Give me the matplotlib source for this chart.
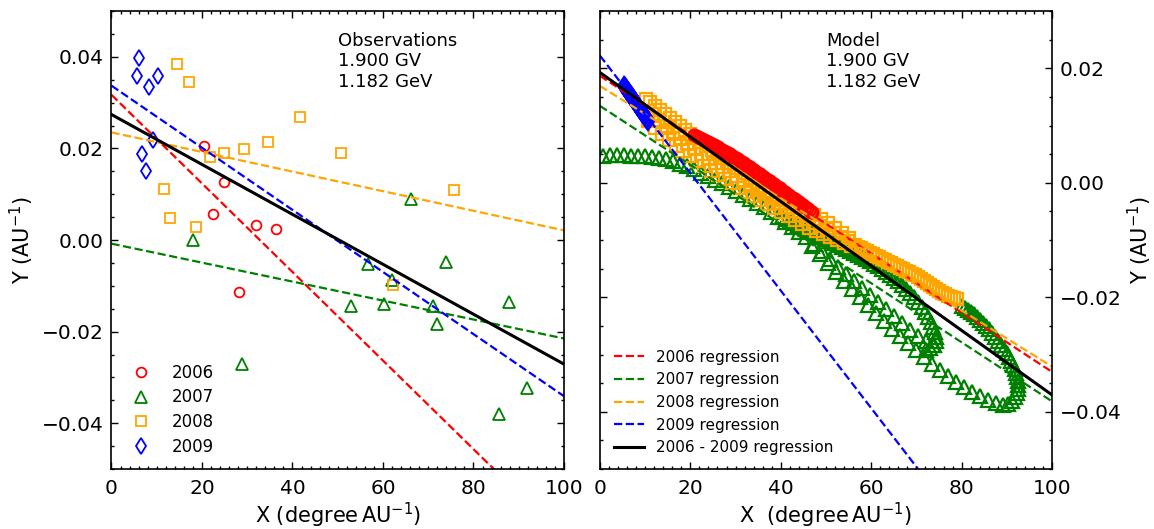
import numpy as np
import matplotlib
matplotlib.use('Agg')
import matplotlib.pyplot as plt
from matplotlib.ticker import MultipleLocator

years = ['2006', '2007', '2008', '2009']
colors = ['red', 'green', 'orange', 'blue']
markers = ['o', '^', 's', 'd']

# observations (left panel)
obs_x_2006 = [20.4, 24.9, 22.4, 31.9, 36.3, 28.1]
obs_y_2006 = [0.0206, 0.0127, 0.0056, 0.0032, 0.0024, -0.0114]
obs_x_2007 = [66.3, 18.0, 73.9, 56.7, 62.1, 52.9, 60.2, 71.0, 71.9, 87.8, 28.8, 91.8, 85.7]
obs_y_2007 = [0.0090, 0.0001, -0.0048, -0.0053, -0.0087, -0.0144, -0.0139, -0.0144, -0.0184,
              -0.0136, -0.0271, -0.0324, -0.0379]
obs_x_2008 = [14.5, 17.1, 41.7, 34.7, 29.3, 24.9, 21.7, 50.7, 11.6, 75.8, 13.0, 18.7, 62.3]
obs_y_2008 = [0.0385, 0.0346, 0.0268, 0.0213, 0.0199, 0.0189, 0.0181, 0.0190, 0.0112, 0.0109,
              0.0048, 0.0029, -0.0099]
obs_x_2009 = [6.1, 5.6, 10.3, 8.2, 9.2, 6.8, 7.6]
obs_y_2009 = [0.0397, 0.0359, 0.0357, 0.0334, 0.0219, 0.0188, 0.0150]

# regressions: intercept, slope (2006..2009, then all years)
obs_intercepts = [0.0317, -0.0008, 0.0235, 0.0337]
obs_slopes = [-0.000967, -0.000207, -0.000214, -0.000678]
obs_all = (0.0274, -0.000545)

mod_intercepts = [0.01867, 0.01342, 0.0169, 0.0222]
mod_slopes = [-0.000517, -0.000516, -0.00049, -0.001026]
mod_all = (0.01925, -0.000563)

# model (right panel)
mod_x_2006 = [20.8, 21.24, 21.68, 22.12, 22.56, 23.0, 23.44, 23.88, 24.32, 24.76, 25.2, 25.64,
              26.08, 26.52, 26.96, 27.4, 27.84, 28.28, 28.72, 29.16, 29.6, 30.04, 30.48, 30.92,
              31.36, 31.8, 32.24, 32.68, 33.12, 33.56, 34.0, 34.44, 34.88, 35.32, 35.76, 36.2,
              36.64, 37.08, 37.52, 37.96, 38.4, 38.84, 39.28, 39.72, 40.16, 40.6, 41.04, 41.48,
              41.92, 42.36, 42.8, 43.24, 43.68, 44.12, 44.56, 45.0, 45.44, 45.88, 46.32, 46.76,
              46.9]
mod_y_2006 = [0.00835, 0.00818, 0.008, 0.00783, 0.00765, 0.00748, 0.0073, 0.00713, 0.00695,
              0.00678, 0.00658, 0.00638, 0.00618, 0.00598, 0.00577, 0.00557, 0.00537, 0.00517,
              0.00497, 0.00476, 0.00453, 0.0043, 0.00407, 0.00384, 0.00361, 0.00339, 0.00316,
              0.00293, 0.00269, 0.00245, 0.0022, 0.00196, 0.00172, 0.00147, 0.00123, 0.00099,
              0.00074, 0.0005, 0.00025, 0.0, -0.00024, -0.00049, -0.00073, -0.00098, -0.00122,
              -0.00146, -0.0017, -0.00194, -0.00218, -0.00242, -0.00266, -0.0029, -0.00313,
              -0.0034, -0.00367, -0.00395, -0.00422, -0.00449, -0.00477, -0.00504, -0.00513]

mod_x_2007 = [0.66, 2.21, 3.76, 5.31, 6.86, 8.41, 9.96, 11.5, 13.1, 14.6, 16.2, 17.7, 19.2, 20.8,
              22.3, 23.9, 25.4, 27.0, 28.5, 30.1, 31.6, 33.2, 34.7, 36.3, 37.8, 39.4, 40.9, 42.5,
              44.0,
              45.6, 47.3, 49.1, 50.9, 52.7, 54.4, 56.2, 58.0, 59.7, 61.5, 63.3, 65.1, 66.8, 68.6,
              70.4, 72.1, 73.7,
              46.9, 48.7, 50.4, 52.2, 54.0, 55.8, 57.5, 59.3, 61.1, 62.8, 64.6, 66.4, 68.1, 69.9,
              71.7, 73.5, 75.2, 77.0, 78.8, 80.5, 82.3, 84.1, 85.8, 87.6, 89.2,
              40.3, 41.2, 42.0, 42.9, 43.8, 44.7, 45.6, 46.5, 47.3, 48.2, 49.1, 50.0, 50.9, 51.8,
              52.7, 53.5, 54.4, 55.3, 56.2, 57.1, 58.0, 58.8, 59.7, 60.6, 61.5, 62.4, 63.3, 64.2,
              65.0, 65.9, 66.8, 67.7, 68.6, 69.5, 70.4, 71.2, 71.9, 72.6, 73.2, 73.7, 74.1, 74.3,
              74.3, 73.9, 73.0, 72.1,
              80.1, 80.8, 81.4, 82.1, 82.7, 83.4, 84.1, 84.7, 85.4, 86.1, 86.7, 87.4, 88.1, 88.7,
              89.4, 90.0, 90.5, 90.9, 91.4, 91.8, 92.0, 92.3, 92.5, 92.5, 92.5, 92.3, 91.8, 91.2,
              90.3]
mod_y_2007 = [0.00467, 0.00485, 0.00485, 0.00485, 0.00467, 0.00467, 0.00467, 0.0045, 0.00432,
              0.00415, 0.0038, 0.00327, 0.00292, 0.0024, 0.0017, 0.00117, 0.00047, -0.00005,
              -0.00075, -0.00145, -0.00215, -0.00285, -0.00355, -0.00425, -0.00513, -0.006,
              -0.00688, -0.00775, -0.00863,
              -0.0095, -0.01073, -0.01195, -0.01335, -0.01475, -0.01598, -0.0172, -0.01843,
              -0.01965, -0.02088, -0.0221, -0.02333, -0.02455, -0.02578, -0.02683, -0.0277,
              -0.0284,
              -0.01108, -0.01248, -0.01405, -0.01563, -0.0172, -0.0186, -0.02, -0.0214, -0.0228,
              -0.0242, -0.0256, -0.02683, -0.02805, -0.02928, -0.0305, -0.03173, -0.03278,
              -0.03383, -0.03488, -0.03575, -0.03663, -0.03733, -0.03803, -0.03855, -0.0389,
              -0.006, -0.00635, -0.0067, -0.00705, -0.0074, -0.00775, -0.0081, -0.00845, -0.0088,
              -0.00915, -0.0095, -0.00985, -0.0102, -0.01055, -0.0109, -0.01125, -0.0116,
              -0.01195, -0.0123, -0.01265, -0.013, -0.01335, -0.0137, -0.01423, -0.01458,
              -0.0151, -0.01563, -0.01615, -0.01668, -0.0172, -0.0179, -0.0186, -0.0193, -0.02,
              -0.02088, -0.02175, -0.02263, -0.0235, -0.02438, -0.02525, -0.02613, -0.027,
              -0.0277, -0.0284, -0.02893, -0.02928,
              -0.02158, -0.02193, -0.02228, -0.02263, -0.02298, -0.0235, -0.02403, -0.02455,
              -0.02508, -0.0256, -0.0263, -0.027, -0.0277, -0.0284, -0.0291, -0.0298, -0.0305,
              -0.0312, -0.0319, -0.0326, -0.0333, -0.034, -0.0347, -0.0354, -0.0361, -0.0368,
              -0.0375, -0.0382, -0.0387]

mod_x_2008 = [10.2, 11.1, 12.2, 13.3, 14.4, 15.5, 16.6, 17.7, 18.8, 19.9, 21.0, 22.1, 23.5, 24.8,
              26.1, 27.4, 29.0, 30.5, 32.1, 33.6, 35.2, 36.5, 38.1, 39.6, 41.2, 42.7, 44.2, 45.8,
              47.3, 48.9, 50.4, 52.0, 53.5, 55.1,
              11.5, 13.05, 14.6, 16.15, 17.7, 19.25, 20.8, 22.35, 23.9, 25.45, 27.0, 28.5, 30.05,
              31.6, 33.2, 34.7, 36.3, 37.8, 39.4, 40.9, 42.5, 44.0, 45.6, 47.1, 48.7, 50.2, 51.8,
              53.3, 54.9,
              10.6, 12.2, 13.7, 15.3, 16.8, 18.4, 19.9, 21.5, 23.0, 24.6, 26.1, 27.7, 29.2, 30.8,
              32.3, 33.8, 35.4, 36.9, 38.5, 40.0, 41.6, 43.1, 44.7, 46.2, 47.8, 49.3, 50.9, 52.4,
              54.0, 55.5,
              56.4, 57.1, 57.7, 58.4, 59.1, 59.7, 60.4, 61.1, 61.7, 62.4, 63.1, 63.7, 64.4, 65.0,
              65.7, 66.4, 67.0, 67.7, 68.4, 69.0, 69.7, 70.4, 71.0, 71.7, 72.3, 73.0, 73.7, 74.3,
              75.0, 75.7, 76.3, 77.0, 77.7, 78.3, 79.0]
mod_y_2008 = [0.01465, 0.01412, 0.01342, 0.01272, 0.01202, 0.01132, 0.01062, 0.00992, 0.00922,
              0.00852, 0.00782, 0.00712, 0.00642, 0.00572, 0.00502, 0.00432, 0.00345, 0.00257,
              0.0017, 0.00082, 0.00012, -0.00058, -0.00145, -0.00215, -0.00285, -0.00355,
              -0.00425, -0.00495, -0.00565, -0.00635, -0.00705, -0.00793, -0.0088, -0.00968,
              0.01197, 0.01092, 0.0099, 0.00889, 0.00786, 0.00693, 0.006, 0.00509, 0.00424,
              0.00345, 0.00275, 0.00198, 0.00114, 0.00026, -0.00053, -0.00121, -0.00194,
              -0.00273, -0.00345, -0.00415, -0.00485, -0.00555, -0.00625, -0.00695, -0.00754,
              -0.00816, -0.00884, -0.00954, -0.01024,
              0.0108, 0.00957, 0.00852, 0.00747, 0.00642, 0.00555, 0.00467, 0.0038, 0.00292,
              0.00205, 0.00135, 0.00065, -0.00005, -0.00093, -0.00163, -0.00233, -0.00303,
              -0.00373, -0.00443, -0.00513, -0.00583, -0.00653, -0.00723, -0.00793, -0.00845,
              -0.00898, -0.0095, -0.01003, -0.01055, -0.01108,
              -0.0109, -0.01117, -0.01143, -0.01169, -0.01195, -0.01222, -0.01248, -0.01274,
              -0.013, -0.01327, -0.01353, -0.01379, -0.01405, -0.01432, -0.01458, -0.01484,
              -0.0151, -0.01537, -0.01563, -0.01589, -0.01615, -0.0165, -0.01685, -0.0172,
              -0.01755, -0.0179, -0.01825, -0.0186, -0.01895, -0.01922, -0.01948, -0.01974,
              -0.02, -0.02018, -0.02035]

mod_x_2009 = [5.3, 5.52, 5.74, 5.96, 6.18, 6.4, 6.62, 6.84, 7.06, 7.28, 7.5, 7.72, 7.94, 8.16,
              8.38, 8.6, 8.82, 9.04, 9.26, 9.48, 9.7, 9.92, 10.14, 10.36, 10.58]
mod_y_2009 = [0.01692, 0.01667, 0.01641, 0.01616, 0.01591, 0.01565, 0.0154, 0.01515, 0.0149,
              0.01464, 0.01439, 0.01414, 0.01388, 0.01363, 0.01338, 0.01312, 0.01287, 0.01262,
              0.01237, 0.01211, 0.01186, 0.01161, 0.01135, 0.0111, 0.01085]

plt.rcParams['font.family'] = 'DejaVu Sans'
plt.rcParams['mathtext.fontset'] = 'dejavusans'

fig = plt.figure(figsize=(11.54, 5.29), dpi=100)
ax1 = fig.add_axes([0.0966, 0.1134, 0.3921, 0.8658])
ax2 = fig.add_axes([0.5199, 0.1134, 0.3917, 0.8658])

xx = np.array([0, 100])

# left panel: observations
obs_x = [obs_x_2006, obs_x_2007, obs_x_2008, obs_x_2009]
obs_y = [obs_y_2006, obs_y_2007, obs_y_2008, obs_y_2009]
obs_ms = [7, 8, 7.5, 8.5]
for i in range(4):
    ax1.plot(obs_x[i], obs_y[i], ls='none', marker=markers[i], mfc='none', mec=colors[i],
             ms=obs_ms[i], mew=1.3, label=years[i])
for i in range(4):
    ax1.plot(xx, obs_intercepts[i] + obs_slopes[i] * xx, '--', color=colors[i], lw=1.6)
ax1.plot(xx, obs_all[0] + obs_all[1] * xx, '-', color='black', lw=2.2)

ax1.set_xlim(0, 100)
ax1.set_ylim(-0.05, 0.05)
ax1.yaxis.set_major_locator(MultipleLocator(0.02))
ax1.yaxis.set_minor_locator(MultipleLocator(0.005))
ax1.text(50, 0.955, 'Observations\n1.900 GV\n1.182 GeV', transform=ax1.get_xaxis_transform(),
         fontsize=13, va='top', ha='left', linespacing=1.2)
ax1.set_xlabel('X (degree$\\,$AU$^{-1}$)', fontsize=15, labelpad=2.5)
ax1.set_ylabel('Y (AU$^{-1}$)', fontsize=15, labelpad=4)
ax1.legend(loc='lower left', frameon=False, numpoints=1, fontsize=12,
           labelspacing=0.4, borderaxespad=0.4)

# right panel: model
mod_x = [mod_x_2006, mod_x_2007, mod_x_2008, mod_x_2009]
mod_y = [mod_y_2006, mod_y_2007, mod_y_2008, mod_y_2009]
mod_ms = [8.5, 9.5, 8.5, 9.5]
for i in [1, 2, 0, 3]:
    ax2.plot(mod_x[i], mod_y[i], ls='none', marker=markers[i], mfc='none', mec=colors[i],
             ms=mod_ms[i], mew=1.6)
for i in range(4):
    ax2.plot(xx, mod_intercepts[i] + mod_slopes[i] * xx, '--', color=colors[i], lw=1.6,
             label=years[i] + ' regression')
ax2.plot(xx, mod_all[0] + mod_all[1] * xx, '-', color='black', lw=2.2,
         label='2006 - 2009 regression')

ax2.set_xlim(0, 100)
ax2.set_ylim(-0.05, 0.03)
ax2.yaxis.set_major_locator(MultipleLocator(0.02))
ax2.yaxis.set_minor_locator(MultipleLocator(0.005))
ax2.text(50, 0.955, 'Model\n1.900 GV\n1.182 GeV', transform=ax2.get_xaxis_transform(),
         fontsize=13, va='top', ha='left', linespacing=1.2)
ax2.set_xlabel('X  (degree$\\,$AU$^{-1}$)', fontsize=15, labelpad=2.5)
ax2.yaxis.set_label_position('right')
ax2.yaxis.tick_right()
ax2.set_ylabel('Y (AU$^{-1}$)', fontsize=15, labelpad=3)
ax2.legend(loc='lower left', frameon=False, fontsize=11)

for ax in (ax1, ax2):
    ax.xaxis.set_major_locator(MultipleLocator(20))
    ax.xaxis.set_minor_locator(MultipleLocator(2))
    ax.tick_params(which='both', direction='in', top=True, bottom=True, left=True, right=True,
                   labelsize=14.5)
    ax.tick_params(which='major', length=5, width=1)
    ax.tick_params(which='minor', length=2.5, width=1)
    ax.tick_params(axis='x', which='major', pad=7)
    ax.tick_params(axis='y', which='major', pad=5.5)
    for s in ax.spines.values():
        s.set_linewidth(1.2)
ax2.tick_params(labelleft=False, labelright=True)

fig.savefig('out.png', dpi=100)
